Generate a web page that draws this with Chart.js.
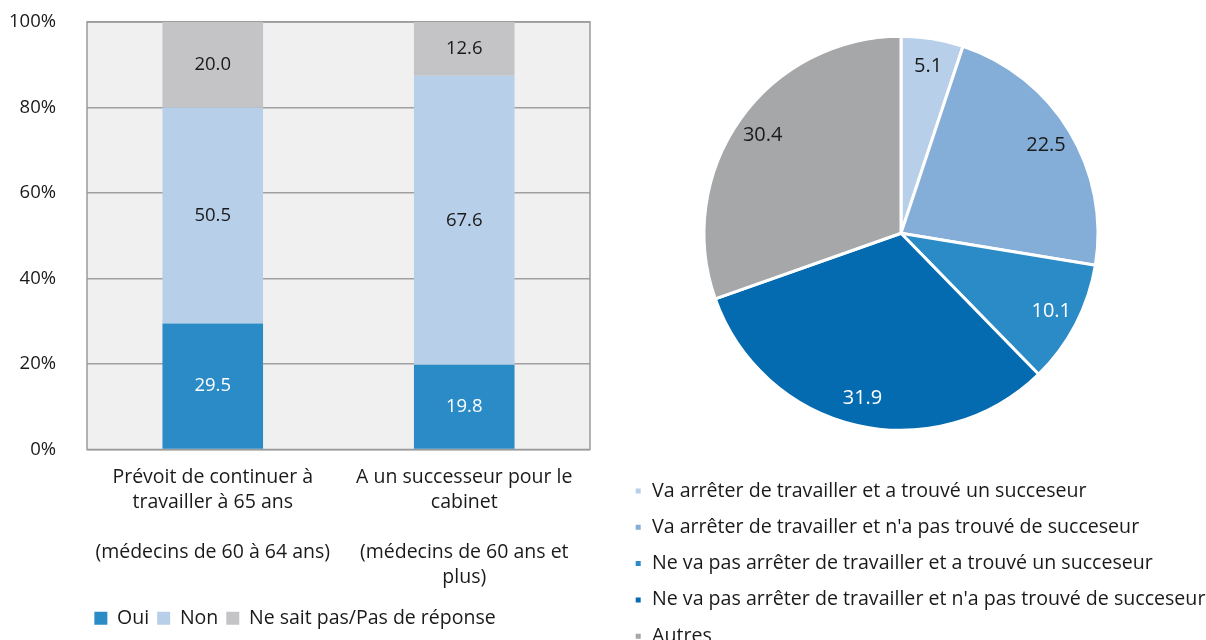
<!DOCTYPE html>
<html><head><meta charset="utf-8">
<script src="https://cdn.jsdelivr.net/npm/chart.js@4.4.0/dist/chart.umd.min.js"></script>
<style>
html,body{margin:0;padding:0;background:#fff;overflow:hidden;width:1206px;height:640px;}
#left{position:absolute;left:0;top:0;width:600px;height:640px;}
#right{position:absolute;left:600px;top:0;width:606px;height:656px;}
</style></head><body>
<div id="left"><canvas id="c1"></canvas></div>
<div id="right"><canvas id="c2"></canvas></div>
<script>
const barCategories = [
  ["Prévoit de continuer à","travailler à 65 ans","","(médecins de 60 à 64 ans)"],
  ["A un successeur pour le","cabinet","","(médecins de 60 ans et","plus)"]
];
const seriesNames = ["Oui","Non","Ne sait pas/Pas de réponse"];
const oui = [29.5, 19.8];
const non = [50.5, 67.6];
const nsp = [20.0, 12.6];
const yTickValues = [0, 20, 40, 60, 80, 100];

const pieLabels = [
  "Va arrêter de travailler et a trouvé un succeseur",
  "Va arrêter de travailler et n'a pas trouvé de succeseur",
  "Ne va pas arrêter de travailler et a trouvé un succeseur",
  "Ne va pas arrêter de travailler et n'a pas trouvé de succeseur",
  "Autres"
];
const pieValues = [5.1, 22.5, 10.1, 31.9, 30.4];

const FONT = "'Open Sans', 'DejaVu Sans', sans-serif";
const TXT = '#1a1a1a';
Chart.defaults.font.family = FONT;
Chart.defaults.color = TXT;

const barColors = ['#2b8bc7', '#b8cfea', '#c4c4c6'];
const barLabelColors = ['#ffffff', TXT, TXT];
const pieColors = ['#b8cfea', '#84aed8', '#2b8bc7', '#056bb1', '#a6a7a9'];
const pieLabelColors = [TXT, TXT, '#ffffff', '#ffffff', TXT];

const plotBg = {
  id: 'plotBg',
  beforeDraw(chart) {
    const {ctx, chartArea: a} = chart;
    ctx.save();
    ctx.fillStyle = '#f0f0f0';
    ctx.fillRect(a.left, a.top, a.right - a.left, a.bottom - a.top);
    ctx.restore();
  },
  beforeDatasetsDraw(chart) {
    const {ctx, chartArea: a} = chart;
    ctx.save();
    ctx.strokeStyle = '#9a9a9a';
    ctx.lineWidth = 1.5;
    ctx.strokeRect(a.left, a.top, a.right - a.left, a.bottom - a.top);
    ctx.restore();
  }
};

const barValueLabels = {
  id: 'barValueLabels',
  afterDatasetsDraw(chart) {
    const {ctx} = chart;
    ctx.save();
    ctx.font = "18.5px " + FONT;
    ctx.textAlign = 'center';
    ctx.textBaseline = 'middle';
    chart.data.datasets.forEach((ds, i) => {
      const meta = chart.getDatasetMeta(i);
      meta.data.forEach((el, j) => {
        const p = el.getProps(['x', 'y', 'base'], true);
        ctx.fillStyle = barLabelColors[i];
        ctx.fillText(ds.data[j].toFixed(1), p.x, (p.y + p.base) / 2);
      });
    });
    ctx.restore();
  }
};

new Chart(document.getElementById('c1'), {
  type: 'bar',
  data: {
    labels: barCategories,
    datasets: [
      {label: seriesNames[0], data: oui, backgroundColor: barColors[0]},
      {label: seriesNames[1], data: non, backgroundColor: barColors[1]},
      {label: seriesNames[2], data: nsp, backgroundColor: barColors[2]}
    ]
  },
  options: {
    responsive: true,
    maintainAspectRatio: false,
    animation: false,
    layout: {padding: {top: 22, right: 10, bottom: 2, left: 0}},
    datasets: {bar: {barPercentage: 0.4, categoryPercentage: 1}},
    plugins: {
      legend: {
        position: 'bottom',
        labels: {font: {size: 19.5}, boxWidth: 13, boxHeight: 13, padding: 8, color: TXT}
      },
      tooltip: {enabled: false}
    },
    scales: {
      x: {
        stacked: true,
        grid: {display: false, drawTicks: false},
        border: {display: false},
        afterFit(scale) { scale.height = 151; },
        ticks: {font: {size: 19.5, lineHeight: 1.282}, padding: 15, maxRotation: 0, autoSkip: false, color: TXT}
      },
      y: {
        stacked: true,
        min: 0, max: 100,
        afterFit(scale) { scale.width = 87; },
        afterBuildTicks(scale) { scale.ticks = yTickValues.map(v => ({value: v})); },
        grid: {color: '#a0a0a0', lineWidth: 1.5, drawTicks: true, tickLength: 31, tickColor: 'rgba(0,0,0,0)'},
        border: {display: false},
        ticks: {font: {size: 18.5}, padding: 0, color: TXT, callback: v => v + '%'}
      }
    }
  },
  plugins: [plotBg, barValueLabels]
});

const pieValueLabels = {
  id: 'pieValueLabels',
  afterDatasetsDraw(chart) {
    const {ctx} = chart;
    ctx.save();
    ctx.font = "20px " + FONT;
    ctx.textAlign = 'center';
    ctx.textBaseline = 'middle';
    const meta = chart.getDatasetMeta(0);
    meta.data.forEach((arc, i) => {
      const p = arc.getProps(['x', 'y', 'startAngle', 'endAngle', 'outerRadius'], true);
      const mid = (p.startAngle + p.endAngle) / 2;
      const r = p.outerRadius * 0.86;
      ctx.fillStyle = pieLabelColors[i];
      ctx.fillText(pieValues[i].toFixed(1), p.x + Math.cos(mid) * r, p.y + Math.sin(mid) * r);
    });
    ctx.restore();
  }
};

const widenLegend = {
  id: 'widenLegend',
  afterLayout(chart) {
    const lg = chart.legend;
    if (lg) { lg.right = chart.width; lg.width = lg.right - lg.left; }
  }
};

new Chart(document.getElementById('c2'), {
  type: 'pie',
  data: {
    labels: pieLabels,
    datasets: [{data: pieValues, backgroundColor: pieColors, borderColor: '#ffffff', borderWidth: 3, radius: 197}]
  },
  options: {
    responsive: true,
    maintainAspectRatio: false,
    animation: false,
    layout: {padding: {top: 2, right: 21.5, bottom: 0, left: 17.5}},
    plugins: {
      legend: {
        position: 'bottom',
        align: 'start',
        labels: {font: {size: 19.6}, boxWidth: 8, boxHeight: 8, padding: 16.7, color: TXT}
      },
      tooltip: {enabled: false}
    }
  },
  plugins: [pieValueLabels, widenLegend]
});
</script>
</body></html>
